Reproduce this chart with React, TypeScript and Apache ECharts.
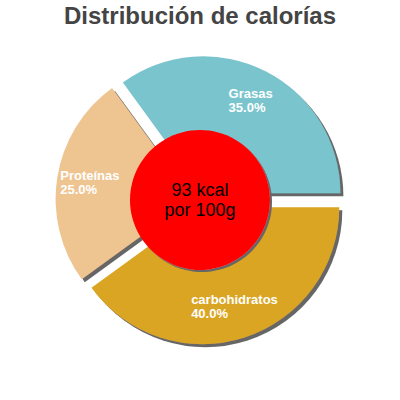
import { useEffect, useRef } from 'react'
import * as echarts from 'echarts'

const names = ['Grasas', 'Proteínas', 'carbohidratos']
const values = [35, 25, 40]
const colors = ['#7AC5CD', '#EEC591', '#DAA520']
const centerLines = ['93 kcal', 'por 100g']

export default function App() {
  const ref = useRef<HTMLDivElement | null>(null)

  useEffect(() => {
    if (!ref.current) return
    const chart = echarts.init(ref.current, undefined, { renderer: 'svg' })

    const slices = names.map((name, i) => ({
      name,
      value: values[i],
      selected: true,
      itemStyle: { color: colors[i] }
    }))

    chart.setOption({
      animation: false,
      title: {
        text: 'Distribución de calorías',
        left: 'center',
        top: 3,
        padding: 0,
        textStyle: {
          fontFamily: 'Liberation Sans',
          fontSize: 24,
          fontWeight: 'bold',
          color: '#444444'
        }
      },
      series: [
        {
          type: 'pie',
          center: [200, 200],
          radius: [0, 137],
          startAngle: 0,
          clockwise: false,
          selectedMode: 'multiple',
          selectedOffset: 7.5,
          silent: true,
          label: { show: false },
          labelLine: { show: false },
          itemStyle: {
            borderWidth: 0,
            shadowColor: '#666666',
            shadowBlur: 0,
            shadowOffsetX: 3,
            shadowOffsetY: 3
          },
          emphasis: { disabled: true },
          data: slices
        },
        {
          // transparent ring, only used to place the slice labels
          type: 'pie',
          center: [200, 200],
          radius: [65, 137],
          startAngle: 0,
          clockwise: false,
          selectedMode: 'multiple',
          selectedOffset: 7.5,
          silent: true,
          z: 3,
          itemStyle: { color: 'rgba(0,0,0,0)', borderWidth: 0 },
          labelLine: { show: false },
          label: {
            show: true,
            position: 'inside',
            align: 'center',
            formatter: (p: any) => `{a|${p.name}}\n{a|${p.percent.toFixed(1)}%}`,
            rich: {
              a: {
                align: 'left',
                color: '#ffffff',
                fontFamily: 'Liberation Sans',
                fontWeight: 'bold',
                fontSize: 13,
                lineHeight: 14
              }
            }
          },
          emphasis: { disabled: true },
          data: names.map((name, i) => ({ name, value: values[i], selected: true }))
        },
        {
          type: 'pie',
          center: [200, 200],
          radius: [0, 70],
          silent: true,
          z: 5,
          itemStyle: {
            color: '#FF0000',
            shadowColor: '#666666',
            shadowBlur: 0,
            shadowOffsetX: 2,
            shadowOffsetY: 2
          },
          labelLine: { show: false },
          label: {
            show: true,
            position: 'center',
            formatter: centerLines.join('\n'),
            color: '#000000',
            fontFamily: 'Liberation Sans',
            fontSize: 18,
            lineHeight: 20
          },
          emphasis: { disabled: true },
          data: [{ name: 'kcal', value: 93 }]
        }
      ]
    })

    return () => {
      chart.dispose()
    }
  }, [])

  return (
    <div
      ref={ref}
      style={{ position: 'fixed', left: 0, top: 0, width: 400, height: 400, background: '#ffffff' }}
    />
  )
}
